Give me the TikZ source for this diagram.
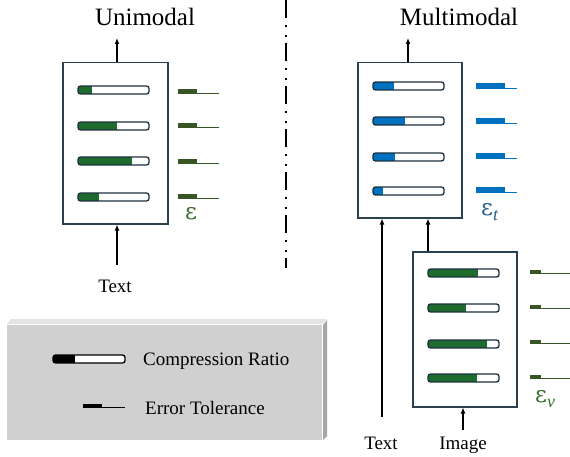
\documentclass[tikz,border=0pt]{standalone}
\usepackage{fontspec}
\setmainfont{Liberation Serif}
\newfontfamily\epsfont{DejaVu Serif}
\usetikzlibrary{arrows.meta}
\definecolor{barline}{HTML}{1C3040}
\definecolor{boxline}{HTML}{2A4250}
\definecolor{gfill}{HTML}{1E6B2E}
\definecolor{gtol}{HTML}{375623}
\definecolor{bfill}{HTML}{0070C0}
\definecolor{epsb}{HTML}{24608C}
\definecolor{epsg}{HTML}{3B6E2C}
\definecolor{lgface}{HTML}{D0D0D0}
\definecolor{lgtop}{HTML}{E4E4E4}
\definecolor{lgside}{HTML}{A6A6A6}
\tikzset{
  modbox/.style={draw=boxline, line width=1.5pt, fill=white, inner sep=0pt, anchor=north west},
  arr/.style={-{Latex[length=6pt,width=5pt]}, line width=1.2pt},
  lbl/.style={font=\fontsize{19}{21}\selectfont, inner sep=0pt},
  ttl/.style={font=\fontsize{25}{28}\selectfont, inner sep=0pt, anchor=base},
  eps/.style={font=\epsfont\fontsize{23}{24}\selectfont, inner sep=0pt, anchor=base west},
}
\newcommand\epsub[1]{\raisebox{-5pt}{\fontsize{18}{18}\selectfont\rmfamily\itshape #1}}
% drawing helpers: x-left, y-center, fraction, colour
\newcommand\crbar[4]{%
  \begin{scope}
    \clip[rounded corners=2.5pt] (#1,#2-4) rectangle ++(71,8);
    \fill[white] (#1,#2-4) rectangle ++(71,8);
    \fill[#4] (#1,#2-4) rectangle ++({71*#3},8);
  \end{scope}
  \draw[barline, line width=1.3pt, rounded corners=2.5pt] (#1,#2-4) rectangle ++(71,8);
}
% x1, x2, x3, yline, thickness, colour
\newcommand\tolmark[6]{%
  \fill[#6] (#1,#4-#5) rectangle (#2,#4);
  \draw[#6, line width=1pt] (#2,#4-0.5) -- (#3,#4-0.5);
}
\begin{document}
\begin{tikzpicture}[x=1pt,y=-1pt]
\useasboundingbox (0,0) rectangle (570,457);

% titles
\node[ttl] (tuni) at (145,26) {Unimodal};
\node[ttl] (tmul) at (459,26) {Multimodal};

% separator
\coordinate (sepa) at (286,0);
\coordinate (sepb) at (286,268);
\draw[line width=2pt, dash pattern=on 18pt off 7pt on 2pt off 8pt on 2pt off 6pt] (sepa) -- (sepb);

% ---------- unimodal ----------
\node[modbox, minimum width=105pt, minimum height=161pt] (uni) at (62,62) {};
\crbar{78}{90}{0.2}{gfill}
\crbar{78}{126}{0.55}{gfill}
\crbar{78}{161}{0.76}{gfill}
\crbar{78}{197}{0.3}{gfill}
\tolmark{178}{197}{219}{94}{5}{gtol}
\tolmark{178}{197}{219}{128}{5}{gtol}
\tolmark{178}{197}{219}{164}{5}{gtol}
\tolmark{178}{197}{219}{199}{5}{gtol}
\node[eps, text=epsg] (e1) at (185,219) {ε};
\coordinate (uniout) at (117,38);
\draw[arr] (uniout |- uni.north) -- (uniout);
\node[lbl, anchor=base] (tx1) at (115,292) {Text};
\coordinate (tx1a) at (117,265);
\draw[arr] (tx1a) -- (tx1a |- uni.south);

% ---------- multimodal ----------
\node[modbox, minimum width=104pt, minimum height=155pt] (mt) at (357,62) {};
\crbar{373}{86}{0.3}{bfill}
\crbar{373}{121}{0.45}{bfill}
\crbar{373}{157}{0.31}{bfill}
\crbar{373}{191}{0.14}{bfill}
\tolmark{476}{505}{517}{89}{6}{bfill}
\tolmark{476}{505}{517}{124}{6}{bfill}
\tolmark{476}{505}{517}{159}{6}{bfill}
\tolmark{476}{505}{517}{193}{6}{bfill}
\node[eps, text=epsb] (e2) at (481,215) {ε\epsub{t}};
\coordinate (mtout) at (408,38);
\draw[arr] (mtout |- mt.north) -- (mtout);

\node[modbox, minimum width=104pt, minimum height=155pt] (mv) at (412,251) {};
\crbar{428}{273}{0.71}{gfill}
\crbar{428}{308}{0.54}{gfill}
\crbar{428}{344}{0.83}{gfill}
\crbar{428}{378}{0.69}{gfill}
\tolmark{530}{541}{570}{274}{4}{gtol}
\tolmark{530}{541}{570}{309}{4}{gtol}
\tolmark{530}{541}{570}{344}{4}{gtol}
\tolmark{530}{541}{570}{379}{4}{gtol}
\node[eps, text=epsg] (e3) at (535,402) {ε\epsub{v}};

\coordinate (link) at (428,251);
\draw[arr] (link) -- (link |- mt.south);

\node[lbl, anchor=base] (tx2) at (381,449) {Text};
\coordinate (tx2a) at (382,417);
\draw[arr] (tx2a) -- (tx2a |- mt.south);

\node[lbl, anchor=base] (img) at (463,449) {Image};
\coordinate (imga) at (463,430);
\draw[arr] (imga) -- (imga |- mv.south);

% ---------- legend ----------
\fill[lgtop] (7,324) -- (11,319) -- (327,319) -- (322,324) -- cycle;
\fill[lgside] (323,325) -- (327,320) -- (327,436) -- (323,440) -- cycle;
\node[fill=lgface, inner sep=0pt, anchor=north west, minimum width=315pt, minimum height=115pt] (legend) at (7,325) {};
\begin{scope}
  \clip[rounded corners=2.5pt] (53,355) rectangle ++(72,8);
  \fill[white] (53,355) rectangle ++(72,8);
  \fill[black] (53,355) rectangle ++(22,8);
\end{scope}
\draw[black, line width=1.3pt, rounded corners=2.5pt] (53,355) rectangle ++(72,8);
\node[lbl, anchor=base west] (lcr) at (143,365) {Compression Ratio};
\tolmark{83}{102}{125}{408}{4}{black}
\node[lbl, anchor=base west] (let) at (145,414) {Error Tolerance};
\end{tikzpicture}
\end{document}
